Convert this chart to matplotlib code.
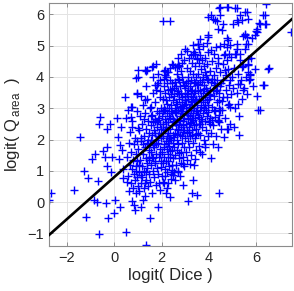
import matplotlib
matplotlib.use('Agg')
import matplotlib.pyplot as plt

# Scattered points away from the main cloud (logit(Dice), logit(Q_area))
outliers = [
    (-2.68, 0.28), (-2.76, 0.06), (-1.70, 0.40), (-1.45, 2.09), (-1.28, 1.00),
    (-1.10, 0.78), (-1.20, -0.47), (-0.96, 1.39), (-0.82, 1.55), (-0.86, 0.06),
    (-0.72, 0.01), (-0.70, 0.67), (-0.61, 2.71), (-0.63, 2.51), (-0.63, -1.03),
    (-0.46, 1.64), (-0.38, 1.45), (-0.32, 2.35), (-0.30, 1.77), (-0.32, 1.16),
    (-0.35, -0.04), (-0.25, -0.52), (-0.18, 2.51), (-0.14, 0.97), (-0.11, 1.45),
    (0.00, -0.36), (0.03, 0.06), (0.13, 2.69), (0.17, 2.09), (0.20, 1.39),
    (0.24, 1.82), (0.27, 2.40), (0.31, 1.66), (0.24, -0.15), (0.45, 3.37),
    (0.49, 2.70), (0.49, -0.95), (0.35, 1.07), (0.38, 0.76), (0.69, 3.05),
    (0.70, 2.72), (0.73, 2.40), (0.94, 3.45), (0.92, 3.98), (1.01, 2.36),
    (0.99, 4.21), (1.32, 4.19), (1.37, 4.21), (1.62, 4.35), (1.76, 4.43),
    (2.11, 4.19), (1.72, 3.73), (1.30, 3.26), (1.23, 0.06), (1.34, -1.37),
    (1.51, -0.52), (1.86, -0.15), (2.07, 5.79), (2.35, 5.79), (2.17, 0.30),
    (2.35, 0.17), (3.10, 0.04), (3.30, 0.30), (3.51, 0.22), (4.42, 0.30),
    (4.08, 1.41), (4.63, 2.09), (4.82, 2.35), (5.25, 2.14), (4.44, 2.56),
    (6.01, 3.39), (6.14, 2.96), (6.34, 3.73), (6.55, 4.28), (7.44, 5.44),
    (2.49, 0.86), (2.28, 0.60), (2.07, 0.65), (2.92, 0.56), (3.31, 0.70),
    (2.70, 0.97), (2.89, 1.23), (3.20, 1.23), (3.41, 1.39), (3.62, 1.61),
    (3.83, 1.77), (3.62, 2.51), (4.04, 2.51), (4.25, 2.72), (4.46, 2.94),
    (4.86, 3.15), (5.24, 3.15), (5.42, 3.60), (5.70, 3.89), (5.31, 3.79),
    (1.01, 4.01), (1.79, 3.74), (0.94, 3.48), (1.58, 4.33), (1.30, 4.22),
    (2.21, 4.17), (2.49, 4.38), (2.63, 4.33), (2.35, 3.90),
]

# Upper band of points above the fitted line
upper_cloud = [
    (6.39, 6.32), (6.35, 5.97), (6.35, 5.68), (5.99, 5.47), (6.13, 5.72),
    (5.59, 6.07), (5.66, 5.86), (5.17, 6.21), (4.82, 6.23), (4.44, 6.21),
    (4.07, 5.97), (4.25, 5.81), (4.39, 5.54), (3.97, 5.33), (3.52, 5.06),
    (2.99, 4.90), (5.03, 5.70), (5.20, 5.81), (5.52, 5.33), (5.83, 5.26),
    (5.94, 5.33), (4.75, 5.24), (4.89, 5.01), (5.10, 4.74), (5.56, 5.06),
    (5.66, 4.59), (5.39, 4.32), (5.73, 4.05), (5.66, 4.16), (4.18, 5.86),
    (4.46, 6.23), (4.75, 6.23), (5.10, 6.21), (4.46, 5.97), (4.32, 5.79),
    (4.60, 5.70), (4.53, 5.49), (5.31, 5.97), (5.52, 6.07), (5.24, 5.75),
    (5.38, 5.81), (6.01, 5.54), (6.15, 5.70), (6.29, 5.97), (6.41, 5.68),
    (4.82, 5.17), (5.52, 5.38), (5.59, 5.27), (6.01, 5.43), (3.55, 5.06),
    (4.75, 4.96), (4.68, 4.74), (5.17, 4.90), (5.66, 5.06), (5.31, 4.74),
    (3.34, 4.74), (2.70, 4.37), (2.14, 4.05), (5.73, 4.10), (5.66, 4.37),
    (6.50, 4.27), (6.29, 3.73), (6.08, 2.93), (5.24, 3.79), (4.89, 3.04),
    (4.39, 2.61), (4.75, 2.35), (3.41, 4.75), (3.48, 4.59), (3.97, 5.29),
    (3.97, 5.93), (2.14, 4.22),
]

# Main cloud, left part (logit(Dice) 0.5 to 2)
core_left = [
    (0.55, 1.45), (0.58, 0.85), (0.62, 1.90), (0.64, 0.35), (0.66, 1.20),
    (0.68, 2.25), (0.70, 0.60), (0.72, 1.60), (0.74, 0.05), (0.75, 1.05),
    (0.77, 2.60), (0.78, 0.45), (0.80, 1.35), (0.82, 0.90), (0.83, 1.85),
    (0.85, -0.10), (0.86, 0.70), (0.88, 2.05), (0.90, 1.15), (0.91, 0.30),
    (0.93, 1.55), (0.94, 2.90), (0.96, 0.80), (0.97, 1.95), (0.99, 0.50),
    (0.60, 2.95), (0.73, 3.05), (0.87, -0.25), (0.95, 1.30), (0.52, 0.65),
    (1.02, 1.70), (1.03, 0.35), (1.05, 2.30), (1.06, 0.95), (1.08, 1.35),
    (1.10, 2.75), (1.11, 0.60), (1.13, 1.95), (1.14, -0.15), (1.16, 1.15),
    (1.18, 2.50), (1.19, 0.80), (1.21, 1.55), (1.22, 3.10), (1.24, 0.45),
    (1.25, 2.10), (1.27, 1.00), (1.28, 1.75), (1.30, 2.85), (1.31, 0.20),
    (1.33, 1.40), (1.34, 2.35), (1.36, 0.70), (1.37, 1.90), (1.39, 3.30),
    (1.40, 1.10), (1.42, 2.60), (1.43, 0.50), (1.45, 1.65), (1.46, 2.20),
    (1.48, 0.90), (1.49, 3.00), (1.04, 1.20), (1.12, 2.05), (1.20, 1.85),
    (1.26, 2.65), (1.32, 0.95), (1.38, 1.25), (1.44, 2.00), (1.47, 1.35),
    (1.15, 3.40), (1.35, 3.70),
    (1.51, 1.85), (1.52, 0.65), (1.53, 2.45), (1.55, 1.20), (1.56, 3.05),
    (1.57, 1.60), (1.59, 0.30), (1.60, 2.15), (1.61, 2.80), (1.63, 1.00),
    (1.64, 1.40), (1.65, 3.50), (1.67, 2.30), (1.68, 0.80), (1.69, 1.75),
    (1.71, 2.60), (1.72, 1.25), (1.73, 3.20), (1.75, 2.00), (1.76, 0.55),
    (1.77, 1.55), (1.79, 2.90), (1.80, 2.40), (1.81, 1.10), (1.83, 3.80),
    (1.84, 1.90), (1.85, 0.90), (1.87, 2.70), (1.88, 1.45), (1.89, 2.20),
    (1.91, 3.35), (1.92, 1.70), (1.93, 0.40), (1.95, 2.50), (1.96, 1.30),
    (1.97, 3.00), (1.99, 2.05), (1.54, 2.00), (1.58, 1.45), (1.62, 2.55),
    (1.66, 1.90), (1.70, 2.20), (1.74, 2.65), (1.78, 1.85), (1.82, 2.55),
    (1.86, 2.10), (1.90, 2.85), (1.94, 1.55), (1.98, 2.35), (1.62, 4.00),
    (1.75, 3.60), (1.86, 4.10), (1.55, 2.75), (1.93, 3.90),
]

# Main cloud, middle part (logit(Dice) 2 to 3.5)
core_mid = [
    (2.01, 1.60), (2.02, 2.75), (2.03, 0.85), (2.04, 3.30), (2.05, 2.10),
    (2.06, 1.25), (2.07, 2.50), (2.08, 3.70), (2.09, 1.85), (2.10, 0.60),
    (2.11, 2.95), (2.12, 1.45), (2.13, 2.30), (2.14, 3.50), (2.15, 1.05),
    (2.16, 2.65), (2.17, 1.95), (2.18, 4.00), (2.19, 2.40), (2.20, 1.30),
    (2.21, 3.15), (2.22, 1.70), (2.23, 2.85), (2.24, 0.95), (2.25, 2.20),
    (2.26, 3.60), (2.27, 1.55), (2.28, 2.55), (2.29, 3.00), (2.30, 1.15),
    (2.31, 2.05), (2.32, 3.35), (2.33, 1.80), (2.34, 2.70), (2.35, 4.30),
    (2.36, 1.45), (2.37, 2.35), (2.38, 3.10), (2.39, 0.75), (2.40, 2.00),
    (2.41, 2.90), (2.42, 1.65), (2.43, 3.80), (2.44, 2.45), (2.45, 1.20),
    (2.46, 3.25), (2.47, 2.15), (2.48, 1.90), (2.49, 2.65), (2.05, 2.90),
    (2.10, 1.75), (2.15, 2.95), (2.20, 2.55), (2.25, 1.90), (2.30, 2.75),
    (2.35, 2.05), (2.40, 3.45), (2.45, 2.85), (2.12, 3.95), (2.28, 4.15),
    (2.42, 4.40), (2.22, 0.45), (2.38, 0.90), (2.48, 1.40),
    (2.51, 3.40), (2.52, 1.75), (2.53, 2.60), (2.54, 0.95), (2.55, 3.00),
    (2.56, 2.20), (2.57, 3.85), (2.58, 1.50), (2.59, 2.45), (2.60, 3.20),
    (2.61, 1.20), (2.62, 2.85), (2.63, 2.00), (2.64, 4.10), (2.65, 2.65),
    (2.66, 1.65), (2.67, 3.55), (2.68, 2.30), (2.69, 1.00), (2.70, 2.95),
    (2.71, 1.85), (2.72, 3.30), (2.73, 2.50), (2.74, 4.35), (2.75, 1.40),
    (2.76, 2.75), (2.77, 3.70), (2.78, 2.15), (2.79, 3.05), (2.80, 1.60),
    (2.81, 2.40), (2.82, 3.50), (2.83, 1.25), (2.84, 2.85), (2.85, 4.00),
    (2.86, 2.10), (2.87, 3.20), (2.88, 1.90), (2.89, 2.60), (2.90, 3.85),
    (2.91, 1.45), (2.92, 3.00), (2.93, 2.30), (2.94, 4.55), (2.95, 2.70),
    (2.96, 1.75), (2.97, 3.40), (2.98, 2.05), (2.99, 3.65), (2.55, 2.55),
    (2.60, 2.95), (2.65, 3.15), (2.70, 2.35), (2.75, 3.45), (2.80, 2.90),
    (2.85, 3.35), (2.90, 2.25), (2.95, 3.10), (2.53, 3.65), (2.63, 3.50),
    (2.73, 3.90), (2.83, 4.20), (2.93, 3.75), (2.58, 0.70), (2.78, 0.85),
    (2.96, 1.15), (2.68, 4.60), (2.88, 4.45),
    (3.01, 2.50), (3.02, 3.80), (3.03, 1.60), (3.04, 3.15), (3.05, 2.20),
    (3.06, 4.30), (3.07, 2.85), (3.08, 1.35), (3.09, 3.50), (3.10, 2.65),
    (3.11, 4.00), (3.12, 1.95), (3.13, 3.30), (3.14, 2.40), (3.15, 4.60),
    (3.16, 3.00), (3.17, 1.75), (3.18, 3.70), (3.19, 2.75), (3.20, 4.20),
    (3.21, 2.10), (3.22, 3.40), (3.23, 1.50), (3.24, 2.95), (3.25, 3.90),
    (3.26, 2.55), (3.27, 4.45), (3.28, 3.20), (3.29, 2.30), (3.30, 3.60),
    (3.31, 1.90), (3.32, 2.85), (3.33, 4.10), (3.34, 3.35), (3.35, 2.45),
    (3.36, 3.85), (3.37, 1.20), (3.38, 3.10), (3.39, 2.70), (3.40, 4.35),
    (3.41, 2.05), (3.42, 3.55), (3.43, 2.90), (3.44, 4.00), (3.45, 1.65),
    (3.46, 3.30), (3.47, 2.50), (3.48, 3.75), (3.49, 4.60), (3.05, 3.45),
    (3.12, 2.80), (3.20, 3.05), (3.28, 2.70), (3.35, 3.00), (3.42, 3.25),
    (3.10, 3.60), (3.25, 3.55), (3.40, 3.80), (3.15, 2.25), (3.30, 2.15),
    (3.45, 2.35), (3.22, 4.70), (3.38, 4.80),
]

# Main cloud, right part (logit(Dice) 3.5 to 6)
core_right = [
    (3.51, 3.10), (3.52, 2.20), (3.53, 4.10), (3.54, 2.80), (3.55, 3.55),
    (3.56, 1.80), (3.57, 4.45), (3.58, 3.30), (3.59, 2.50), (3.60, 3.90),
    (3.61, 2.95), (3.62, 4.70), (3.63, 2.15), (3.64, 3.60), (3.65, 3.05),
    (3.66, 4.25), (3.67, 2.65), (3.68, 3.40), (3.69, 1.55), (3.70, 3.85),
    (3.71, 2.40), (3.72, 4.55), (3.73, 3.20), (3.74, 2.85), (3.75, 4.00),
    (3.76, 3.50), (3.77, 2.00), (3.78, 4.35), (3.79, 3.00), (3.80, 3.75),
    (3.81, 2.60), (3.82, 4.15), (3.83, 3.35), (3.84, 1.85), (3.85, 4.60),
    (3.86, 2.95), (3.87, 3.65), (3.88, 2.30), (3.89, 4.05), (3.90, 3.25),
    (3.91, 2.75), (3.92, 4.40), (3.93, 3.55), (3.94, 2.10), (3.95, 3.90),
    (3.96, 3.10), (3.97, 4.80), (3.98, 2.55), (3.99, 3.45), (3.58, 4.90),
    (3.75, 5.00), (3.90, 5.10),
    (4.01, 3.30), (4.03, 4.20), (4.05, 2.70), (4.07, 3.85), (4.09, 2.20),
    (4.11, 4.50), (4.13, 3.05), (4.15, 3.60), (4.17, 2.45), (4.19, 4.05),
    (4.21, 3.40), (4.23, 4.75), (4.25, 2.90), (4.27, 3.75), (4.29, 2.10),
    (4.31, 4.30), (4.33, 3.20), (4.35, 3.90), (4.37, 2.60), (4.39, 4.60),
    (4.41, 3.50), (4.43, 3.00), (4.45, 4.15), (4.47, 3.70), (4.49, 2.35),
    (4.04, 3.60), (4.12, 3.95), (4.20, 2.95), (4.28, 3.55), (4.36, 4.45),
    (4.44, 3.25), (4.10, 4.85), (4.30, 4.95), (4.46, 5.00), (4.18, 1.85),
    (4.40, 1.75),
    (4.52, 3.80), (4.55, 2.95), (4.58, 4.40), (4.61, 3.35), (4.64, 4.70),
    (4.67, 2.70), (4.70, 4.05), (4.73, 3.60), (4.76, 4.55), (4.79, 3.10),
    (4.82, 4.25), (4.85, 3.75), (4.88, 2.50), (4.91, 4.65), (4.94, 3.45),
    (4.97, 4.00), (4.60, 3.90), (4.75, 3.35), (4.90, 3.90), (4.65, 5.05),
    (4.85, 4.75),
    (5.02, 3.65), (5.06, 4.30), (5.10, 3.00), (5.14, 4.75), (5.18, 3.50),
    (5.22, 4.10), (5.26, 2.75), (5.30, 4.55), (5.34, 3.90), (5.38, 3.30),
    (5.42, 4.35), (5.46, 3.65), (5.50, 4.90), (5.55, 4.00), (5.60, 3.45),
    (5.65, 4.40), (5.72, 3.95), (5.78, 4.60), (5.85, 3.70), (5.95, 4.25),
    (5.20, 5.05), (5.45, 5.30), (5.05, 2.40),
]

# Extra points in the densest part of the cloud
core_fill = [
    (1.83, 2.62), (1.97, 1.12), (2.04, 2.33), (2.17, 3.27), (2.23, 2.12),
    (2.36, 1.62), (2.44, 3.58), (2.52, 2.08), (2.57, 2.88), (2.61, 3.72),
    (2.66, 2.18), (2.72, 1.58), (2.79, 2.62), (2.84, 3.08), (2.91, 2.48),
    (2.98, 3.28), (3.03, 2.92), (3.08, 2.32), (3.13, 3.88), (3.19, 2.52),
    (3.24, 3.22), (3.31, 2.62), (3.36, 3.48), (3.43, 2.18), (3.48, 2.92),
    (3.54, 3.78), (3.59, 2.72), (3.66, 3.28), (3.72, 2.58), (3.78, 3.62),
    (3.84, 3.12), (3.91, 3.92), (3.97, 2.88), (4.06, 3.42), (4.14, 2.62),
    (4.22, 3.82), (4.34, 3.58), (4.42, 2.78), (4.56, 3.22), (4.68, 4.22),
    (1.63, 1.82), (1.74, 1.32), (1.87, 0.62), (2.13, 0.82), (2.27, 1.32),
    (2.43, 1.02), (1.45, 1.45), (1.28, 0.62), (1.13, 0.88), (0.92, 0.98),
    (2.08, 3.02), (2.24, 3.82), (2.56, 4.32), (2.82, 4.72), (3.06, 4.82),
    (3.32, 5.02), (3.63, 5.22), (1.95, 3.55), (2.37, 3.62), (2.69, 3.95),
]

# Fitted line end points (logit(Dice) at the axis limits)
fit_x = [-2.75, 7.5]
fit_y = [-1.05, 5.85]

x_ticks = [-2, 0, 2, 4, 6]
y_ticks = [-1, 0, 1, 2, 3, 4, 5, 6]

plt.rcParams['font.family'] = ['Liberation Sans', 'DejaVu Sans']
plt.rcParams['mathtext.fontset'] = 'custom'
plt.rcParams['mathtext.rm'] = 'Liberation Sans'

points = outliers + upper_cloud + core_left + core_mid + core_right + core_fill
xs = [p[0] for p in points]
ys = [p[1] for p in points]

fig = plt.figure(figsize=(2.94, 2.91), dpi=100)
ax = fig.add_axes([0.167, 0.155, 0.826, 0.833])

ax.plot(xs, ys, linestyle='none', marker='+', color='#0000ff',
        markersize=5.5, markeredgewidth=1.0, zorder=2)
ax.plot(fit_x, fit_y, color='black', linewidth=1.9, zorder=3)

ax.set_xlim(-2.75, 7.5)
ax.set_ylim(-1.4, 6.35)
ax.set_xticks(x_ticks)
ax.set_yticks(y_ticks)
ax.grid(True, color='#e3e3e3', linewidth=0.7, zorder=0)
ax.set_axisbelow(True)
ax.tick_params(direction='in', length=3, width=0.6, colors='#808080',
               labelcolor='#262626', labelsize=10.5, top=True, right=True)
for sp in ax.spines.values():
    sp.set_color('#8c8c8c')
    sp.set_linewidth(0.8)

ax.set_xlabel('logit( Dice )', fontsize=12, color='#262626', labelpad=2)
ax.set_ylabel(r'logit( Q$_{\,\mathrm{area}}$  )', fontsize=12, color='#262626', labelpad=4)

fig.savefig('out.png', dpi=100)
